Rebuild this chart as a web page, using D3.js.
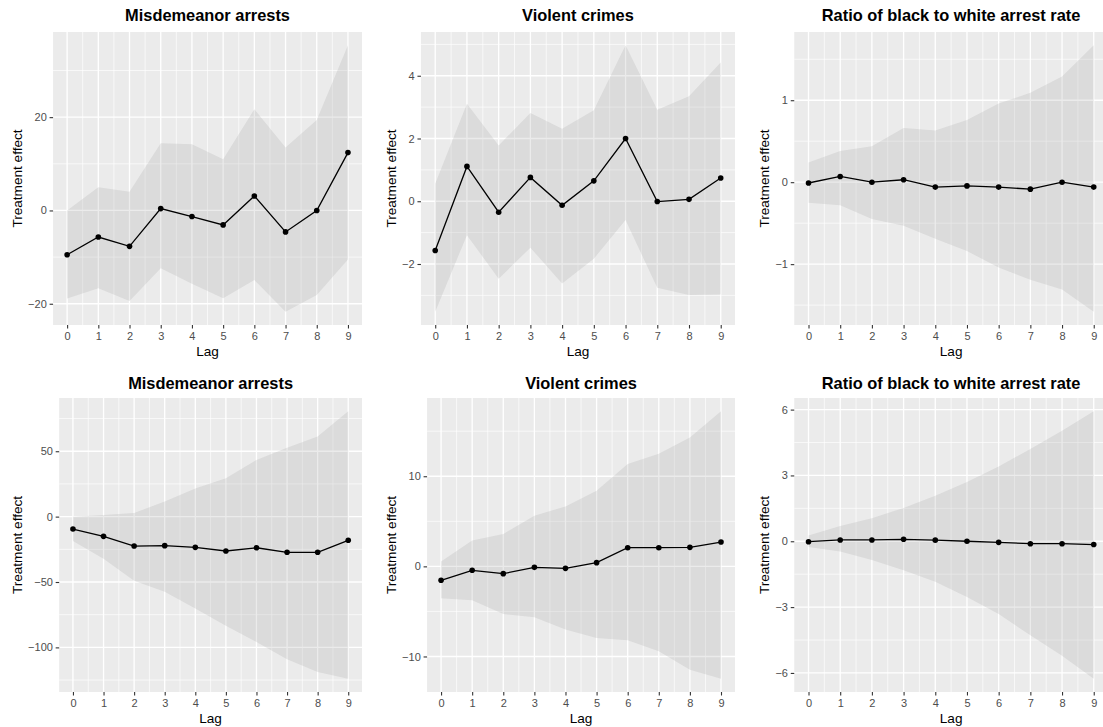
<!DOCTYPE html>
<html>
<head>
<meta charset="utf-8">
<script src="https://cdn.jsdelivr.net/npm/d3@7"></script>
<style>
  body { margin: 0; background: #fff; }
  svg { display: block; font-family: "Liberation Sans", Arial, Helvetica, sans-serif; }
</style>
</head>
<body>
<svg id="chart" width="1103" height="727"></svg>
<script>
/* global d3 */
'use strict';

// lags on the x axis
const lags = [0, 1, 2, 3, 4, 5, 6, 7, 8, 9];

// top row
const misdTopEst = [-9.5, -5.7, -7.7, 0.4, -1.3, -3.1, 3.1, -4.6, 0.0, 12.4];
const misdTopLo = [-18.9, -16.7, -19.4, -12.4, -15.7, -18.8, -14.9, -21.7, -18.1, -10.5];
const misdTopHi = [0.0, 5.0, 4.0, 14.4, 14.2, 11.0, 21.7, 13.5, 19.4, 35.4];
const misdTopTicks = [-20, 0, 20];

const violTopEst = [-1.57, 1.11, -0.35, 0.76, -0.13, 0.65, 2.0, -0.01, 0.06, 0.74];
const violTopLo = [-3.52, -1.08, -2.47, -1.48, -2.62, -1.83, -0.6, -2.76, -2.99, -2.97];
const violTopHi = [0.56, 3.11, 1.78, 2.81, 2.31, 2.9, 4.97, 2.92, 3.35, 4.42];
const violTopTicks = [-2, 0, 2, 4];

const ratioTopEst = [-0.01, 0.07, 0.0, 0.03, -0.06, -0.045, -0.06, -0.085, 0.0, -0.06];
const ratioTopLo = [-0.25, -0.28, -0.45, -0.53, -0.69, -0.84, -1.04, -1.19, -1.31, -1.58];
const ratioTopHi = [0.24, 0.38, 0.44, 0.66, 0.63, 0.76, 0.96, 1.09, 1.29, 1.67];
const ratioTopTicks = [-1, 0, 1];

// bottom row
const misdBotEst = [-9.5, -15.1, -22.5, -22.2, -23.5, -26.3, -23.8, -27.3, -27.3, -18.1];
const misdBotLo = [-18.6, -32.2, -49.1, -57.5, -70.3, -83.5, -95.8, -109.1, -118.8, -123.9];
const misdBotHi = [0.0, 1.3, 2.8, 11.5, 21.5, 29.4, 43.4, 52.6, 61.3, 80.5];
const misdBotTicks = [-100, -50, 0, 50];

const violBotEst = [-1.55, -0.44, -0.81, -0.11, -0.22, 0.41, 2.07, 2.07, 2.11, 2.7];
const violBotLo = [-3.55, -3.77, -5.29, -5.66, -7.02, -7.95, -8.2, -9.43, -11.46, -12.46];
const violBotHi = [0.55, 2.88, 3.59, 5.62, 6.65, 8.39, 11.35, 12.5, 14.3, 17.2];
const violBotTicks = [-10, 0, 10];

const ratioBotEst = [-0.02, 0.06, 0.06, 0.09, 0.05, 0.0, -0.05, -0.11, -0.11, -0.15];
const ratioBotLo = [-0.26, -0.47, -0.85, -1.32, -1.84, -2.54, -3.32, -4.28, -5.22, -6.26];
const ratioBotHi = [0.26, 0.7, 1.05, 1.52, 2.07, 2.7, 3.41, 4.2, 5.04, 5.92];
const ratioBotTicks = [-6, -3, 0, 3, 6];

const titles = ['Misdemeanor arrests', 'Violent crimes', 'Ratio of black to white arrest rate'];

const panels = [
  {row: 0, col: 0, est: misdTopEst, lo: misdTopLo, hi: misdTopHi, ticks: misdTopTicks},
  {row: 0, col: 1, est: violTopEst, lo: violTopLo, hi: violTopHi, ticks: violTopTicks},
  {row: 0, col: 2, est: ratioTopEst, lo: ratioTopLo, hi: ratioTopHi, ticks: ratioTopTicks},
  {row: 1, col: 0, est: misdBotEst, lo: misdBotLo, hi: misdBotHi, ticks: misdBotTicks},
  {row: 1, col: 1, est: violBotEst, lo: violBotLo, hi: violBotHi, ticks: violBotTicks},
  {row: 1, col: 2, est: ratioBotEst, lo: ratioBotLo, hi: ratioBotHi, ticks: ratioBotTicks}
];

// layout (pixels)
const rows = [
  {top: 32, bottom: 325, titleY: 20.8},
  {top: 398, bottom: 692, titleY: 388.6}
];
const cols = [
  {yTitleX: 21.7, right: 362},
  {yTitleX: 395.7, right: 735},
  {yTitleX: 769, right: 1108}
];
const tickLen = 3.5;
const tickFont = 11;

const svg = d3.select('#chart');
const fmt = d3.format('');

// measure a tick label width
const measure = svg.append('text').style('font-size', tickFont + 'px');
function textWidth(s) {
  measure.text(s);
  return measure.node().getComputedTextLength();
}

panels.forEach(function(p) {
  const row = rows[p.row];
  const col = cols[p.col];
  const labelW = d3.max(p.ticks, function(t) {
    return textWidth(fmt(t));
  });
  const left = col.yTitleX + 6.4 + labelW + tickLen + 2.8;
  const right = col.right;

  // continuous scales with ggplot's 5% expansion
  const xExt = d3.extent(lags);
  const xPad = (xExt[1] - xExt[0]) * 0.05;
  const x = d3.scaleLinear()
    .domain([xExt[0] - xPad, xExt[1] + xPad])
    .range([left, right]);
  const yExt = [d3.min(p.lo.concat(p.est)), d3.max(p.hi.concat(p.est))];
  const yPad = (yExt[1] - yExt[0]) * 0.05;
  const y = d3.scaleLinear()
    .domain([yExt[0] - yPad, yExt[1] + yPad])
    .range([row.bottom, row.top]);

  const g = svg.append('g');

  // panel background
  g.append('rect')
    .attr('x', left)
    .attr('y', row.top)
    .attr('width', right - left)
    .attr('height', row.bottom - row.top)
    .attr('fill', '#ebebeb');

  // minor grid: midpoints between majors, extended one step
  const yStep = p.ticks[1] - p.ticks[0];
  const yMajorExt = [p.ticks[0] - yStep].concat(p.ticks, [p.ticks[p.ticks.length - 1] + yStep]);
  const yMinor = d3.pairs(yMajorExt).map(function(d) {
    return (d[0] + d[1]) / 2;
  }).filter(function(v) {
    return v >= y.domain()[0] && v <= y.domain()[1];
  });
  const xMinor = d3.pairs(lags).map(function(d) {
    return (d[0] + d[1]) / 2;
  });

  g.selectAll('line.ymin').data(yMinor).enter().append('line')
    .attr('x1', left).attr('x2', right)
    .attr('y1', function(d) { return y(d); })
    .attr('y2', function(d) { return y(d); })
    .attr('stroke', '#fff').attr('stroke-width', 0.67);
  g.selectAll('line.xmin').data(xMinor).enter().append('line')
    .attr('y1', row.top).attr('y2', row.bottom)
    .attr('x1', function(d) { return x(d); })
    .attr('x2', function(d) { return x(d); })
    .attr('stroke', '#fff').attr('stroke-width', 0.67);
  g.selectAll('line.ymaj').data(p.ticks).enter().append('line')
    .attr('x1', left).attr('x2', right)
    .attr('y1', function(d) { return y(d); })
    .attr('y2', function(d) { return y(d); })
    .attr('stroke', '#fff').attr('stroke-width', 1.33);
  g.selectAll('line.xmaj').data(lags).enter().append('line')
    .attr('y1', row.top).attr('y2', row.bottom)
    .attr('x1', function(d) { return x(d); })
    .attr('x2', function(d) { return x(d); })
    .attr('stroke', '#fff').attr('stroke-width', 1.33);

  // confidence ribbon
  const area = d3.area()
    .x(function(d, i) { return x(lags[i]); })
    .y0(function(d, i) { return y(p.lo[i]); })
    .y1(function(d, i) { return y(p.hi[i]); });
  g.append('path')
    .attr('d', area(lags))
    .attr('fill', '#999999')
    .attr('fill-opacity', 0.2);

  // estimate line and points
  const line = d3.line()
    .x(function(d, i) { return x(lags[i]); })
    .y(function(d) { return y(d); });
  g.append('path')
    .attr('d', line(p.est))
    .attr('fill', 'none')
    .attr('stroke', '#000')
    .attr('stroke-width', 1.3);
  g.selectAll('circle').data(p.est).enter().append('circle')
    .attr('cx', function(d, i) { return x(lags[i]); })
    .attr('cy', function(d) { return y(d); })
    .attr('r', 2.8)
    .attr('fill', '#000');

  // axes
  const xAxis = g.append('g')
    .attr('transform', 'translate(0,' + row.bottom + ')')
    .call(d3.axisBottom(x).tickValues(lags).tickSize(tickLen).tickPadding(4).tickFormat(fmt));
  const yAxis = g.append('g')
    .attr('transform', 'translate(' + left + ',0)')
    .call(d3.axisLeft(y).tickValues(p.ticks).tickSize(tickLen).tickPadding(2.8).tickFormat(fmt));
  [xAxis, yAxis].forEach(function(a) {
    a.select('.domain').remove();
    a.selectAll('.tick line').attr('stroke', '#333333').attr('stroke-width', 1.1);
    a.selectAll('.tick text')
      .attr('fill', '#4d4d4d')
      .style('font-size', tickFont + 'px')
      .style('font-family', 'Liberation Sans, Arial, sans-serif');
  });

  // titles
  g.append('text')
    .attr('x', (left + right) / 2)
    .attr('y', row.titleY)
    .attr('text-anchor', 'middle')
    .style('font-size', '16.4px')
    .style('font-weight', 'bold')
    .text(titles[p.col]);
  g.append('text')
    .attr('x', (left + right) / 2)
    .attr('y', row.bottom + 31)
    .attr('text-anchor', 'middle')
    .style('font-size', '13.6px')
    .text('Lag');
  g.append('text')
    .attr('transform', 'translate(' + col.yTitleX + ',' + (row.top + row.bottom) / 2 + ') rotate(-90)')
    .attr('text-anchor', 'middle')
    .style('font-size', '13.6px')
    .text('Treatment effect');
});

measure.remove();
</script>
</body>
</html>
